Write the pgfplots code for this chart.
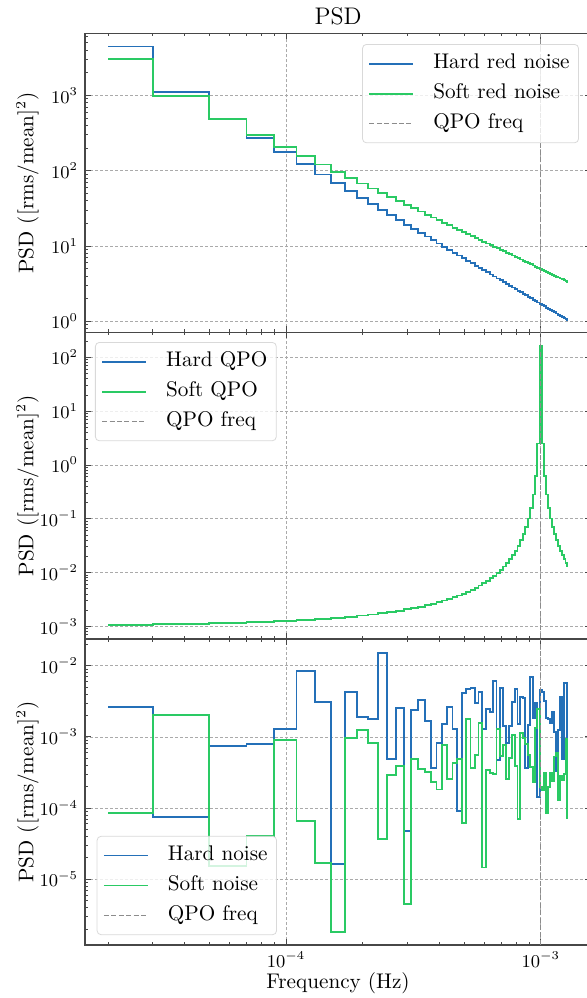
\documentclass[border=0pt]{standalone}
\usepackage{pgfplots}
\usepackage{pgfplotstable}
\pgfplotsset{compat=1.18}
\definecolor{hblue}{RGB}{36,112,184}
\definecolor{sgreen}{RGB}{42,202,100}
\definecolor{gridc}{RGB}{170,170,170}

\pgfplotstableread{
x hr sr q hn sn
2e-5 4441 3050 0.001054 2.63e-3 8.6e-5
3e-5 1102.5 970 0.001099 7.43e-5 2.03e-3
5e-5 488.0 485 0.001146 7.45e-4 1.54e-5
7e-5 273.7 298.2 0.001196 7.94e-4 4.1e-5
9e-5 174.8 207.7 0.001250 1.28e-3 8.95e-4
11e-5 121.2 154.6 0.001307 8.43e-3 6.6e-5
13e-5 88.88 120.4 0.001369 3.06e-3 1.69e-5
15e-5 67.96 97.0 0.001435 1.64e-5 1.84e-6
17e-5 53.63 80.1 0.001506 4.22e-3 9.66e-4
19e-5 43.40 67.6 0.001582 1.92e-3 1.26e-3
21e-5 35.83 57.9 0.001664 1.80e-3 8.13e-4
23e-5 30.08 50.3 0.001753 1.52e-2 3.65e-5
25e-5 25.61 44.2 0.001849 4.84e-4 2.92e-4
27e-5 22.07 39.2 0.001953 2.57e-3 3.90e-4
29e-5 19.21 35.0 0.002066 4.76e-5 4.5e-6
31e-5 16.87 31.56 0.002190 2.39e-3 4.94e-4
33e-5 14.94 28.61 0.002324 3.27e-3 3.57e-4
35e-5 13.32 26.08 0.002472 1.66e-3 3.24e-4
37e-5 11.94 23.89 0.002634 3.66e-4 2.30e-4
39e-5 10.77 21.98 0.002812 8.13e-4 1.82e-4
41e-5 9.768 20.31 0.003010 1.50e-3 7.7e-4
43e-5 8.896 18.84 0.003229 2.61e-3 2.56e-4
45e-5 8.136 17.53 0.003472 1.28e-3 4.26e-4
47e-5 7.468 16.36 0.003744 9.0e-5 4.84e-4
49e-5 6.880 15.31 0.004050 4.18e-3 6.1e-5
51e-5 6.359 14.37 0.004394 4.66e-3 1.77e-3
53e-5 5.894 13.52 0.004785 4.91e-3 3.62e-4
55e-5 5.479 12.75 0.005230 2.96e-3 5.62e-4
57e-5 5.105 12.04 0.005740 4.31e-3 1.55e-3
59e-5 4.769 11.40 0.006328 1.29e-3 1.46e-5
61e-5 4.465 10.81 0.007011 2.47e-3 3.43e-4
63e-5 4.189 10.27 0.007812 2.26e-3 3.08e-4
65e-5 3.938 9.77 0.008758 6.15e-3 3.01e-4
67e-5 3.708 9.31 0.009887 4.74e-4 1.28e-3
69e-5 3.499 8.88 0.01125 4.91e-3 5.39e-4
71e-5 3.306 8.48 0.01291 1.42e-3 7.69e-4
73e-5 3.129 8.11 0.01498 8.3e-4 2.54e-4
75e-5 2.965 7.77 0.01758 1.42e-3 5.0e-4
77e-5 2.815 7.45 0.02092 3.12e-3 1.06e-3
79e-5 2.675 7.15 0.02531 4.66e-3 3.90e-4
81e-5 2.546 6.87 0.03124 1.52e-3 6.97e-5
83e-5 2.425 6.61 0.03954 3.67e-3 1.12e-3
85e-5 2.313 6.36 0.05164 3.48e-3 9.55e-4
87e-5 2.209 6.13 0.07028 3.69e-4 7.94e-4
89e-5 2.111 5.91 0.1012 1.47e-3 5.57e-4
91e-5 2.020 5.70 0.1580 6.87e-3 3.74e-4
93e-5 1.934 5.51 0.2808 1.82e-3 2.35e-4
95e-5 1.854 5.32 0.6304 3.02e-3 1.32e-3
97e-5 1.779 5.15 2.492 1.45e-4 2.44e-3
99e-5 1.708 4.98 162 4.56e-3 2.0e-4
101e-5 1.642 4.83 2.492 4.31e-3 1.8e-4
103e-5 1.579 4.68 0.6304 3.19e-3 3.1e-4
105e-5 1.519 4.53 0.2808 1.82e-3 8.5e-5
107e-5 1.463 4.40 0.1580 1.78e-3 2.0e-4
109e-5 1.410 4.27 0.1012 1.55e-3 3.1e-4
111e-5 1.360 4.15 0.07028 2.26e-3 2.4e-4
113e-5 1.313 4.03 0.05164 1.18e-3 5.3e-4
115e-5 1.268 3.92 0.03954 3.3e-4 5.9e-4
117e-5 1.225 3.81 0.03124 1.25e-3 1.3e-4
119e-5 1.184 3.71 0.02531 3.67e-3 2.8e-4
121e-5 1.145 3.61 0.02092 4.8e-4 2.5e-4
123e-5 1.1086 3.52 0.01758 5.66e-3 3.0e-4
125e-5 1.0735 3.43 0.01498 5.66e-3 9.5e-4
127e-5 1.04 3.34 0.01291 9.5e-4 7.2e-5
128e-5 1.04 3.34 0.01291 9.5e-4 7.2e-5
}\psd

\pgfplotsset{
  every axis/.append style={
    scale only axis, width=252.95pt,
    tick align=inside,
    major tick length=3pt, minor tick length=1.5pt,
    axis line style={black!72, line width=0.65pt},
    major grid style={gridc, dash pattern=on 1.5pt off 1pt, line width=0.35pt},
    tick label style={font=\fontsize{9}{10}\selectfont},
    label style={font=\fontsize{10.6}{12}\selectfont},
    legend cell align=left,
    legend style={font=\fontsize{10.6}{12}\selectfont, draw=black!15, fill=white,
      fill opacity=0.8, text opacity=1, draw opacity=1, rounded corners=2pt,
      inner xsep=3pt, inner ysep=3pt, row sep=1.8pt, column sep=8pt,
      nodes={text height=7.6pt, text depth=2.6pt, inner sep=1.5pt}},
  },
  every tick/.append style={black!72, line width=0.4pt},
  every axis y label/.style={at={(axis description cs:-0.1024,0.5)}, rotate=90, anchor=base},
  every axis x label/.style={at={(axis description cs:0.5,0)}, anchor=base, yshift=-21.5pt},
  every axis title/.style={at={(axis description cs:0.5,1)}, anchor=base, yshift=4.65pt,
    font=\fontsize{12}{14}\selectfont},
  stepl/.style={const plot mark left, line width=0.9pt,
    legend image code/.code={\draw[##1] (0pt,0pt) -- (22pt,0pt);}},
  qpoline/.style={black!45, dash pattern=on 2.5pt off 1.2pt, line width=0.55pt,
    legend image code/.code={\draw[##1] (0pt,0pt) -- (22pt,0pt);}},
}

\begin{document}
\begin{tikzpicture}
\useasboundingbox (0,0) rectangle (293pt,499pt);

% ---------------- top panel ----------------
\begin{axis}[
  at={(42.55pt,332.75pt)}, anchor=south west, height=149.6pt,
  xmode=log, ymode=log,
  xmin=1.6255e-5, xmax=1.5752e-3,
  ymin=0.7099, ymax=6658,
  xtick={1e-4,1e-3},
  minor xtick={2e-5,3e-5,4e-5,5e-5,6e-5,7e-5,8e-5,9e-5,2e-4,3e-4,4e-4,5e-4,6e-4,7e-4,8e-4,9e-4},
  ytick={1,10,100,1000},
  minor ytick={0.8,0.9,2,3,4,5,6,7,8,9,20,30,40,50,60,70,80,90,200,300,400,500,600,700,800,900,2000,3000,4000,5000,6000},
  xticklabels={},
  grid=major,
  ylabel={PSD ([rms/mean]$^2$)},
  title={PSD},
  legend style={at={(axis description cs:0.97628,0.96424)}, anchor=north east},
]
\addplot[stepl, hblue] table[x=x, y=hr]{\psd};
\addlegendentry{Hard red noise}
\addplot[stepl, sgreen] table[x=x, y=sr]{\psd};
\addlegendentry{Soft red noise}
\addplot[qpoline] coordinates {(1e-3,1e-3) (1e-3,1e5)};
\addlegendentry{QPO freq}
\end{axis}

% ---------------- middle panel ----------------
\begin{axis}[
  at={(42.55pt,179.5pt)}, anchor=south west, height=153.25pt,
  xmode=log, ymode=log,
  xmin=1.6255e-5, xmax=1.5752e-3,
  ymin=5.81e-4, ymax=289.1,
  xtick={1e-4,1e-3},
  minor xtick={2e-5,3e-5,4e-5,5e-5,6e-5,7e-5,8e-5,9e-5,2e-4,3e-4,4e-4,5e-4,6e-4,7e-4,8e-4,9e-4},
  ytick={1e-3,1e-2,1e-1,1,10,100},
  minor ytick={6e-4,7e-4,8e-4,9e-4,2e-3,3e-3,4e-3,5e-3,6e-3,7e-3,8e-3,9e-3,2e-2,3e-2,4e-2,5e-2,6e-2,7e-2,8e-2,9e-2,0.2,0.3,0.4,0.5,0.6,0.7,0.8,0.9,2,3,4,5,6,7,8,9,20,30,40,50,60,70,80,90,200},
  xticklabels={},
  grid=major,
  ylabel={PSD ([rms/mean]$^2$)},
  legend style={at={(axis description cs:0.01957,0.969)}, anchor=north west},
]
\addplot[stepl, hblue] table[x=x, y=q]{\psd};
\addlegendentry{Hard QPO}
\addplot[stepl, sgreen] table[x=x, y=q]{\psd};
\addlegendentry{Soft QPO}
\addplot[qpoline] coordinates {(1e-3,1e-5) (1e-3,1e4)};
\addlegendentry{QPO freq}
\end{axis}

% ---------------- bottom panel ----------------
\begin{axis}[
  at={(42.55pt,26.5pt)}, anchor=south west, height=153pt,
  xmode=log, ymode=log,
  xmin=1.6255e-5, xmax=1.5752e-3,
  ymin=1.194e-6, ymax=0.02371,
  xtick={1e-4,1e-3},
  minor xtick={2e-5,3e-5,4e-5,5e-5,6e-5,7e-5,8e-5,9e-5,2e-4,3e-4,4e-4,5e-4,6e-4,7e-4,8e-4,9e-4},
  ytick={1e-5,1e-4,1e-3,1e-2},
  minor ytick={2e-6,3e-6,4e-6,5e-6,6e-6,7e-6,8e-6,9e-6,2e-5,3e-5,4e-5,5e-5,6e-5,7e-5,8e-5,9e-5,2e-4,3e-4,4e-4,5e-4,6e-4,7e-4,8e-4,9e-4,2e-3,3e-3,4e-3,5e-3,6e-3,7e-3,8e-3,9e-3,2e-2},
  grid=major,
  xlabel={Frequency (Hz)},
  ylabel={PSD ([rms/mean]$^2$)},
  legend style={at={(axis description cs:0.02293,0.03235)}, anchor=south west},
]
\addplot[stepl, hblue] table[x=x, y=hn]{\psd};
\addlegendentry{Hard noise}
\addplot[stepl, sgreen] table[x=x, y=sn]{\psd};
\addlegendentry{Soft noise}
\addplot[qpoline] coordinates {(1e-3,1e-8) (1e-3,1)};
\addlegendentry{QPO freq}
\end{axis}
\end{tikzpicture}
\end{document}
